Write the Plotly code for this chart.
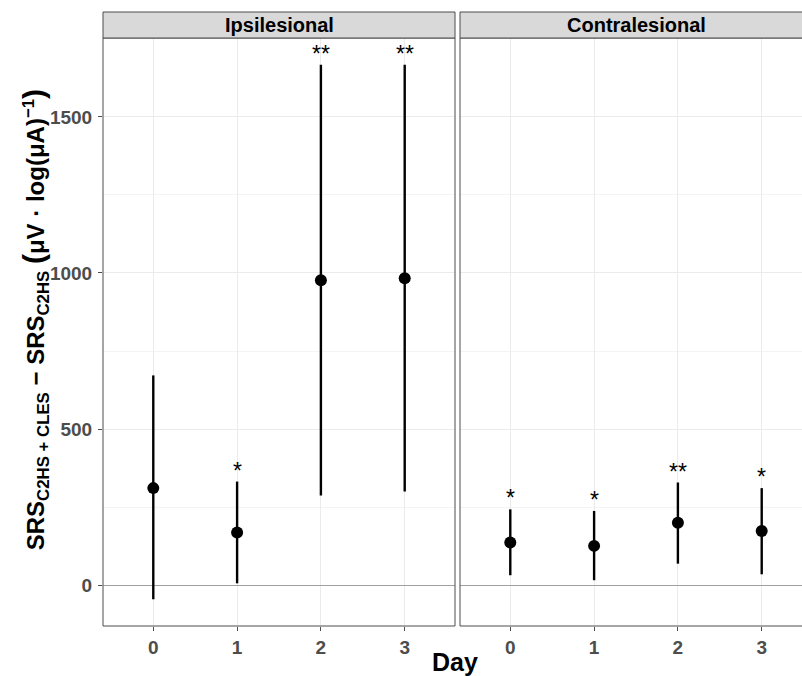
import plotly.graph_objects as go
from plotly.subplots import make_subplots

days = [0, 1, 2, 3]
panels = ["Ipsilesional", "Contralesional"]

ipsi_mean = [311, 169, 977, 983]
ipsi_lower = [-45, 6, 287, 300]
ipsi_upper = [672, 332, 1667, 1667]
ipsi_sig = ["", "*", "**", "**"]

contra_mean = [137, 126, 200, 174]
contra_lower = [32, 16, 69, 35]
contra_upper = [243, 238, 329, 311]
contra_sig = ["*", "*", "**", "*"]

y_ticks = [0, 500, 1000, 1500]

W, H = 802, 676
ML, MR, MT, MB = 103, 0, 38, 50
pw = W - ML - MR
ph = H - MT - MB

fig = make_subplots(rows=1, cols=2, shared_yaxes=True)

series = [
    (ipsi_mean, ipsi_lower, ipsi_upper, ipsi_sig),
    (contra_mean, contra_lower, contra_upper, contra_sig),
]

for i, (m, lo, up, sig) in enumerate(series):
    fig.add_trace(go.Scatter(
        x=days, y=m, mode="markers",
        marker=dict(color="black", size=12),
        error_y=dict(type="data", symmetric=False,
                     array=[u - v for u, v in zip(up, m)],
                     arrayminus=[v - l for v, l in zip(m, lo)],
                     color="black", thickness=2.4, width=0),
        showlegend=False, hoverinfo="skip"), row=1, col=i + 1)
    for d, u, s in zip(days, up, sig):
        if s:
            fig.add_annotation(x=d, y=u, text=s, showarrow=False,
                               xref="x" if i == 0 else "x2", yref="y",
                               yanchor="bottom", yshift=-4,
                               font=dict(family="Liberation Sans", size=23, color="black"))

# y range: data extent with 5% expansion
lo_all = min(ipsi_lower + contra_lower)
hi_all = max(ipsi_upper + contra_upper)
pad = 0.05 * (hi_all - lo_all)
yr = [lo_all - pad, hi_all + pad]

ppu = 352 / 4.2
left_end = 352 / pw
right_start = 357 / pw
right_range_max = -0.6 + (pw - 357) / ppu

tickfont = dict(family="Liberation Sans", size=19, color="#4D4D4D", weight="bold")
axis_common = dict(showgrid=True, gridcolor="#EBEBEB", gridwidth=1,
                   showline=False, mirror=False,
                   ticks="outside", ticklen=4, tickcolor="#4D4D4D",
                   tickfont=tickfont, zeroline=False)

fig.update_xaxes(**axis_common, tickvals=days, ticktext=[str(d) for d in days])
fig.update_layout(
    xaxis=dict(domain=[0, left_end], range=[-0.6, 3.6]),
    xaxis2=dict(domain=[right_start, 1], range=[-0.6, right_range_max]),
)
fig.update_yaxes(**axis_common)
fig.update_yaxes(zeroline=True, zerolinecolor="#A0A0A0", zerolinewidth=1.2,
                 range=yr, tickvals=y_ticks,
                 minor=dict(dtick=250, showgrid=True, gridcolor="#F4F4F4", gridwidth=1))
fig.update_layout(yaxis=dict(ticklabelstandoff=2),
                  yaxis2=dict(showticklabels=False, ticks=""))

border = dict(color="#4D4D4D", width=1)
# left panel border
fig.add_shape(type="rect", xref="x domain", yref="y domain", x0=0, x1=1, y0=0, y1=1,
              line=border, fillcolor="rgba(0,0,0,0)", layer="above")
# right panel border (its right side falls beyond the picture)
for (x0, y0, x1, y1) in [(0, 0, 0, 1), (0, 0, 1.05, 0), (0, 1, 1.05, 1)]:
    fig.add_shape(type="line", xref="x2 domain", yref="y2 domain",
                  x0=x0, y0=y0, x1=x1, y1=y1, line=border, layer="above")

# strips
strip_h = 26 / ph
for dom, name in [((0, left_end), panels[0]), ((right_start, 1.03), panels[1])]:
    fig.add_shape(type="rect", xref="paper", yref="paper",
                  x0=dom[0], x1=dom[1], y0=1, y1=1 + strip_h,
                  fillcolor="#D9D9D9", line=border)
    cx = (dom[0] + dom[1]) / 2 if name == panels[0] else (right_start + (357 + 352) / pw) / 2
    fig.add_annotation(xref="paper", yref="paper", x=cx,
                       y=1 + strip_h / 2, text=f"<b>{name}</b>", showarrow=False,
                       xanchor="center", yanchor="middle",
                       font=dict(family="Liberation Sans", size=20, color="black"))

# x title
fig.add_annotation(xref="paper", yref="paper", x=0.5 + 2 / pw, y=-20 / ph,
                   text="<b>Day</b>", showarrow=False, xanchor="center", yanchor="top",
                   font=dict(family="Liberation Sans", size=25, color="black"))

# y title
ytitle = ("<b>SRS<sub>C2HS + CLES</sub> \u2212 SRS<sub>C2HS</sub>\u00a0"
          "<span style='font-size:30px'>(</span>\u03bcV \u00b7 log(\u03bcA)<sup>\u22121</sup>"
          "<span style='font-size:30px'>)</span></b>")
fig.add_annotation(xref="paper", yref="paper", x=(35 - ML) / pw, y=0.52,
                   text=ytitle, textangle=-90, showarrow=False,
                   xanchor="center", yanchor="middle",
                   font=dict(family="Liberation Sans", size=24, color="black"))

fig.update_layout(width=W, height=H, margin=dict(l=ML, r=MR, t=MT, b=MB),
                  plot_bgcolor="white", paper_bgcolor="white")

fig.write_html("out.html", config={"displayModeBar": False},
               post_script="document.body.style.margin='0';document.body.style.overflow='hidden';")
